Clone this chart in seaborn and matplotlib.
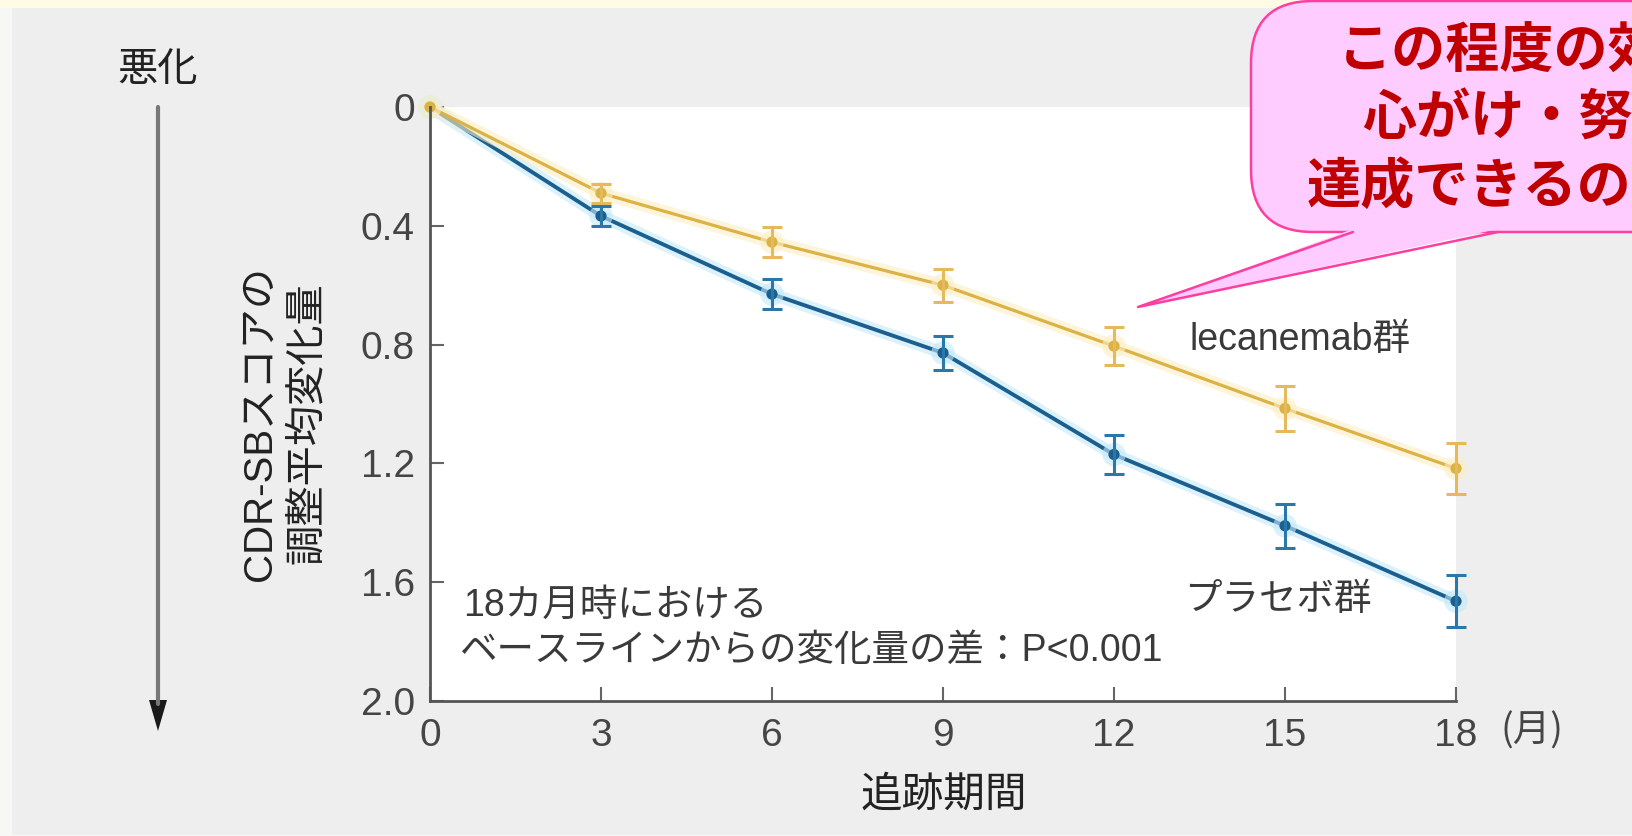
import numpy as np
import pandas as pd
import matplotlib
matplotlib.use("Agg")
import matplotlib.pyplot as plt
import matplotlib.patheffects as pe
from matplotlib.patches import FancyBboxPatch, Polygon, Rectangle
from matplotlib.lines import Line2D
import seaborn as sns

# ---- data: adjusted mean change from baseline in CDR-SB ----
months = [0, 3, 6, 9, 12, 15, 18]
lecanemab_change = [0.0, 0.29, 0.455, 0.60, 0.805, 1.015, 1.217]
lecanemab_err = [0.0, 0.032, 0.05, 0.055, 0.065, 0.075, 0.085]
placebo_change = [0.0, 0.367, 0.63, 0.828, 1.17, 1.41, 1.664]
placebo_err = [0.0, 0.034, 0.05, 0.058, 0.066, 0.074, 0.087]
group_names = ["プラセボ群", "lecanemab群"]
y_ticks = [0, 0.4, 0.8, 1.2, 1.6, 2.0]
y_tick_labels = ["0", "0.4", "0.8", "1.2", "1.6", "2.0"]
x_ticks = [0, 3, 6, 9, 12, 15, 18]
x_tick_labels = ["0", "3", "6", "9", "12", "15", "18"]

df = pd.DataFrame({
    "month": months * 2,
    "change": placebo_change + lecanemab_change,
    "group": [group_names[0]] * len(months) + [group_names[1]] * len(months),
})

BLUE = "#1a5f8e"
BLUE_BAR = "#2a78aa"
GOLD = "#dcb244"
GOLD_BAR = "#e4ba5c"

sns.set_style("ticks")
plt.rcParams["font.family"] = ["Liberation Sans", "Noto Sans CJK JP"]

W, H = 1633, 836
fig = plt.figure(figsize=(W / 100, H / 100), dpi=100)
fig.patch.set_facecolor("#f7f7f6")


def fx(x):
    return x / W


def fy(y):
    return 1 - y / H


# page background: gray panel with a pale band on top
fig.add_artist(Rectangle((fx(12), fy(835)), 1, (835 - 8) / H, transform=fig.transFigure,
                         facecolor="#eeeeee", edgecolor="none", zorder=-10))
fig.add_artist(Rectangle((0, fy(8)), 1, 8 / H, transform=fig.transFigure,
                         facecolor="#fffbe4", edgecolor="none", zorder=-9))

ax = fig.add_axes([fx(430), fy(701), (1456 - 430) / W, (701 - 107) / H])
ax.set_facecolor("white")

sns.lineplot(data=df, x="month", y="change", hue="group", hue_order=group_names,
             palette=[BLUE, GOLD], marker="o", markersize=8, markeredgewidth=0,
             linewidth=2.8, errorbar=None, legend=False, ax=ax)

halo = {BLUE: "#c4e9fb", GOLD: "#fdefc4"}
for line, col in zip(ax.lines, [BLUE, GOLD]):
    line.set_clip_on(False)
    line.set_path_effects([pe.Stroke(linewidth=9, foreground=halo[col], alpha=0.6), pe.Normal()])
ax.lines[1].set_linewidth(2.3)

for vals, errs, col in [(placebo_change, placebo_err, BLUE_BAR),
                        (lecanemab_change, lecanemab_err, GOLD_BAR)]:
    cont = ax.errorbar(months[1:], vals[1:], yerr=errs[1:], fmt="none", ecolor=col,
                       elinewidth=2.2, capsize=7, capthick=2.2, zorder=3)
    for art in cont.lines[1]:
        art.set_clip_on(False)
    for art in cont.lines[2]:
        art.set_clip_on(False)

ax.set_xlim(0, 18)
ax.set_ylim(2.0, 0)
ax.set_xticks(x_ticks)
ax.set_xticklabels(x_tick_labels)
ax.set_yticks(y_ticks)
ax.set_yticklabels(y_tick_labels)
ax.set_xlabel("")
ax.set_ylabel("")
sns.despine(ax=ax)
for s in ["left", "bottom"]:
    ax.spines[s].set_color("#555555")
    ax.spines[s].set_linewidth(2.0)
ax.tick_params(axis="both", direction="in", length=10, width=1.5, color="#666666",
               labelsize=28, labelcolor="#454545")
ax.tick_params(axis="x", pad=12)
ax.tick_params(axis="y", pad=11)

# in-plot annotations
txt = dict(color="#3a3a3a", fontsize=27, va="center", ha="left")
fig.text(fx(463), fy(606), "18カ月時における", **txt)
fig.text(fx(459), fy(651), "ベースラインからの変化量の差：P<0.001", **txt)
fig.text(fx(1189), fy(340), "lecanemab群", **txt)
fig.text(fx(1184), fy(600), "プラセボ群", **txt)
fig.text(fx(1501), fy(731), "(月)", color="#454545", fontsize=27, va="center", ha="left",
         family=["Noto Sans CJK JP"])

# axis titles
fig.text(fx(944), fy(796), "追跡期間", color="#222222", fontsize=30, ha="center", va="center")
fig.text(fx(260), fy(423), "CDR-SBスコアの", color="#222222", fontsize=29,
         rotation=90, ha="center", va="center")
fig.text(fx(307), fy(423), "調整平均変化量", color="#222222", fontsize=29,
         rotation=90, ha="center", va="center")

# "worse" direction arrow
fig.text(fx(158), fy(70), "悪化", color="#222222", fontsize=29, ha="center", va="center")
fig.add_artist(Line2D([fx(158), fx(158)], [fy(107), fy(704)], transform=fig.transFigure,
                      color="#777777", linewidth=3))
fig.add_artist(Polygon([(fx(149), fy(700)), (fx(167), fy(700)), (fx(158), fy(731))],
                       closed=True, transform=fig.transFigure, facecolor="#1a1a1a",
                       edgecolor="none"))

# speech-bubble callout
PINK = "#ffccff"
PINK_EDGE = "#ff3fa0"
fig.add_artist(FancyBboxPatch((fx(1251), fy(232)), fx(1760) - fx(1251), (232 - 1) / H,
                              boxstyle="round,pad=0,rounding_size=0.038",
                              transform=fig.transFigure, facecolor=PINK, edgecolor=PINK_EDGE,
                              linewidth=1.8, zorder=5, mutation_aspect=W / H))
fig.add_artist(Polygon([(fx(1353), fy(229)), (fx(1138), fy(307)), (fx(1498), fy(229))],
                       closed=True, transform=fig.transFigure, facecolor=PINK,
                       edgecolor="none", zorder=6))
fig.add_artist(Line2D([fx(1353), fx(1138), fx(1498)], [fy(232), fy(307), fy(232)],
                      transform=fig.transFigure, color=PINK_EDGE, linewidth=1.8, zorder=7))

callout = dict(color="#c00000", fontsize=39, weight="bold", va="center", ha="left",
               family=["Noto Sans CJK JP"], zorder=8)
fig.text(fx(1338), fy(52), "この程度の効果なら", **callout)
fig.text(fx(1362), fy(119), "心がけ・努力で", **callout)
fig.text(fx(1307), fy(187), "達成できるのでは？", **callout)

fig.savefig("out.png", dpi=100, facecolor=fig.get_facecolor())
